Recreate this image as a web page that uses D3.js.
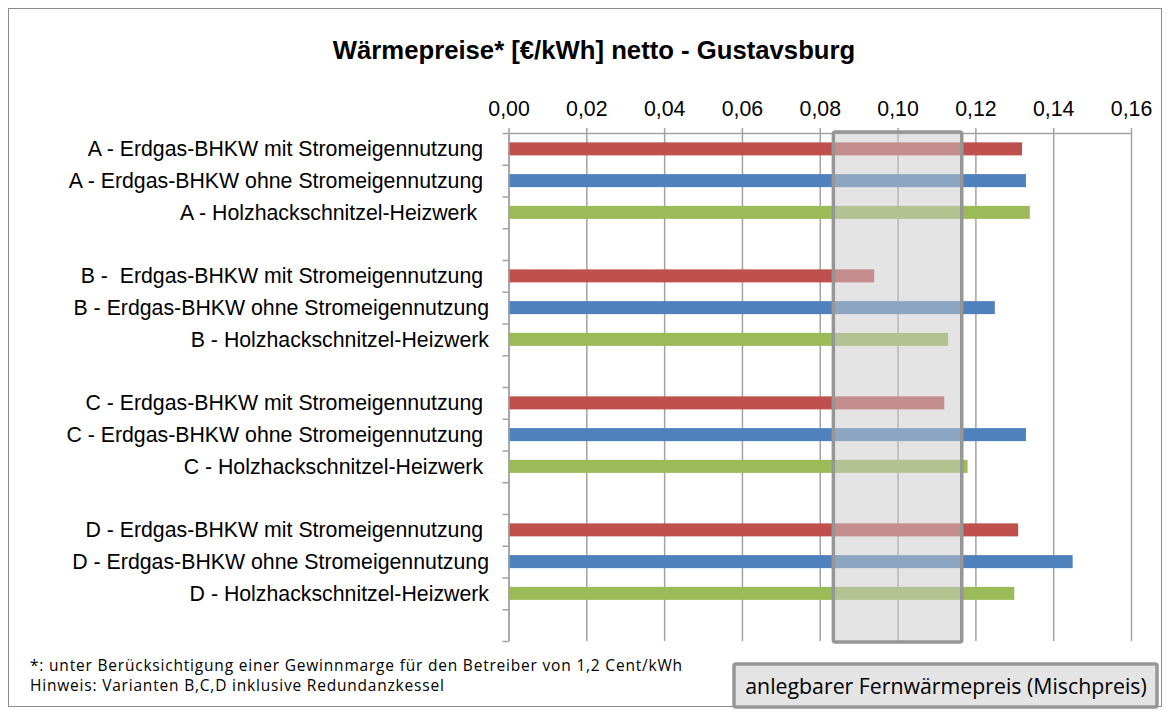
<!DOCTYPE html>
<html>
<head>
<meta charset="utf-8">
<script src="https://cdn.jsdelivr.net/npm/d3@7"></script>
<style>
  body { margin: 0; background: #fff; }
  svg { display: block; }
  .label { white-space: pre; }
</style>
</head>
<body>
<div id="chart"></div>
<script>
// chart data
const title = "Wärmepreise* [€/kWh] netto - Gustavsburg";

const categories = [
  "A - Erdgas-BHKW mit Stromeigennutzung ",
  "A - Erdgas-BHKW ohne Stromeigennutzung ",
  "A - Holzhackschnitzel-Heizwerk  ",
  "",
  "B -  Erdgas-BHKW mit Stromeigennutzung ",
  "B - Erdgas-BHKW ohne Stromeigennutzung",
  "B - Holzhackschnitzel-Heizwerk",
  "",
  "C - Erdgas-BHKW mit Stromeigennutzung ",
  "C - Erdgas-BHKW ohne Stromeigennutzung ",
  "C - Holzhackschnitzel-Heizwerk ",
  "",
  "D - Erdgas-BHKW mit Stromeigennutzung ",
  "D - Erdgas-BHKW ohne Stromeigennutzung",
  "D - Holzhackschnitzel-Heizwerk",
  ""
];

const values = [
  0.132, 0.133, 0.134, null,
  0.094, 0.125, 0.113, null,
  0.112, 0.133, 0.118, null,
  0.131, 0.145, 0.130, null
];

// 0 = mit Stromeigennutzung, 1 = ohne, 2 = Holzhackschnitzel
const seriesIndex = [0, 1, 2, null, 0, 1, 2, null, 0, 1, 2, null, 0, 1, 2, null];

const xTicks = [0, 0.02, 0.04, 0.06, 0.08, 0.10, 0.12, 0.14, 0.16];

// anlegbarer Fernwärmepreis range
const priceBand = [0.0835, 0.1165];
const bandLabel = "anlegbarer Fernwärmepreis (Mischpreis)";

const footnotes = [
  "*: unter Berücksichtigung einer Gewinnmarge für den Betreiber von 1,2 Cent/kWh",
  "Hinweis: Varianten B,C,D inklusive Redundanzkessel"
];

document.addEventListener('DOMContentLoaded', function() {
  const width = 1170, height = 715;
  const left = 508.5, right = 1131, top = 133, bottom = 641;

  const svg = d3.select('#chart')
    .append('svg')
    .attr('width', width)
    .attr('height', height);

  // outer frame
  svg.append('rect')
    .attr('x', 8.5).attr('y', 8.5)
    .attr('width', 1153).attr('height', 698)
    .attr('fill', '#fff')
    .attr('stroke', '#8c8c8c')
    .attr('stroke-width', 1);

  const de = d3.formatLocale({ decimal: ",", thousands: ".", grouping: [3], currency: ["", "€"] });

  const x = d3.scaleLinear().domain([0, 0.16]).range([left, right]);
  const y = d3.scaleBand().domain(d3.range(categories.length)).range([top, bottom]);
  const yEdge = d3.scaleLinear().domain([0, categories.length]).range([top, bottom]);
  const color = d3.scaleOrdinal().domain([0, 1, 2]).range(['#c0504d', '#4f81bd', '#9bbb59']);

  // title
  svg.append('text')
    .attr('x', 594).attr('y', 59)
    .attr('text-anchor', 'middle')
    .attr('font-family', 'Liberation Sans, Arial, sans-serif')
    .attr('font-weight', 'bold')
    .attr('font-size', 25.7)
    .text(title);

  // vertical gridlines
  const grid = svg.append('g')
    .attr('transform', `translate(0,${top})`)
    .call(d3.axisTop(x).tickValues(xTicks).tickSize(-(bottom - top)).tickFormat(''));
  grid.select('.domain').remove();
  grid.selectAll('line').attr('stroke', '#a3a3a3').attr('stroke-width', 1.5);

  // bars
  const bw = y.bandwidth();
  svg.append('g')
    .selectAll('rect')
    .data(values.map((v, i) => ({ v, i })).filter(d => d.v != null))
    .join('rect')
    .attr('x', x(0))
    .attr('y', d => y(d.i) + bw * 0.295)
    .attr('width', d => x(d.v) - x(0))
    .attr('height', bw * 0.41)
    .attr('fill', d => color(seriesIndex[d.i]));

  // top axis with labels
  const xAxis = svg.append('g')
    .attr('transform', `translate(0,${top})`)
    .call(d3.axisTop(x).tickValues(xTicks).tickSize(5).tickSizeOuter(0).tickFormat(de.format('.2f')));
  xAxis.select('.domain').attr('stroke', '#a3a3a3').attr('stroke-width', 1.5);
  xAxis.selectAll('line').attr('stroke', '#a3a3a3').attr('stroke-width', 1.5);
  xAxis.selectAll('text')
    .attr('font-family', 'Liberation Sans, Arial, sans-serif')
    .attr('font-size', 21.3)
    .attr('fill', '#000')
    .attr('y', -17);

  // left axis with tick marks on the category edges
  const yAxis = svg.append('g')
    .attr('transform', `translate(${left},0)`)
    .call(d3.axisLeft(yEdge).tickValues(d3.range(categories.length + 1)).tickSize(6).tickSizeOuter(0).tickFormat(''));
  yAxis.select('.domain').attr('stroke', '#a3a3a3').attr('stroke-width', 1.5);
  yAxis.selectAll('line').attr('stroke', '#a3a3a3').attr('stroke-width', 1.5);

  // category labels
  svg.append('g')
    .selectAll('text')
    .data(categories)
    .join('text')
    .attr('class', 'label')
    .attr('x', left - 19.5)
    .attr('y', (d, i) => y(i) + bw / 2)
    .attr('dy', '0.35em')
    .attr('text-anchor', 'end')
    .attr('font-family', 'Liberation Sans, Arial, sans-serif')
    .attr('font-size', 21.3)
    .text(d => d);

  // price band overlay
  svg.append('rect')
    .attr('x', x(priceBand[0]))
    .attr('y', top - 1)
    .attr('width', x(priceBand[1]) - x(priceBand[0]))
    .attr('height', bottom - top + 2)
    .attr('rx', 2)
    .attr('fill', 'rgba(201,201,201,0.5)')
    .attr('stroke', '#969696')
    .attr('stroke-width', 3.5);

  // footnotes
  svg.append('g')
    .selectAll('text')
    .data(footnotes)
    .join('text')
    .attr('x', 30)
    .attr('y', (d, i) => 671 + i * 20)
    .attr('font-family', 'Open Sans, sans-serif')
    .attr('font-size', 15.5)
    .attr('letter-spacing', 0.8)
    .attr('fill', '#000')
    .text(d => d);

  // legend box
  const lg = svg.append('g');
  lg.append('rect')
    .attr('x', 734).attr('y', 664)
    .attr('width', 423).attr('height', 43)
    .attr('rx', 2)
    .attr('fill', '#e4e4e4')
    .attr('stroke', '#969696')
    .attr('stroke-width', 3.5);
  lg.append('text')
    .attr('x', 946).attr('y', 693.5)
    .attr('text-anchor', 'middle')
    .attr('font-family', 'Open Sans, sans-serif')
    .attr('font-size', 21.3)
    .attr('fill', '#000')
    .text(bandLabel);
});
</script>
</body>
</html>
